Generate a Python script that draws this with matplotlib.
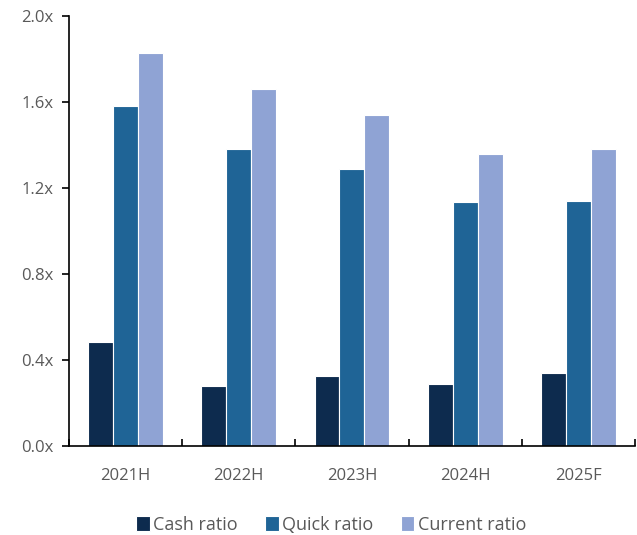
import numpy as np
import matplotlib.pyplot as plt
from matplotlib.ticker import FixedLocator

plt.rcParams['font.family'] = ['Open Sans', 'DejaVu Sans']

# data
periods = ['2021H', '2022H', '2023H', '2024H', '2025F']
cash_ratio = [0.485, 0.28, 0.326, 0.289, 0.34]
quick_ratio = [1.58, 1.38, 1.287, 1.137, 1.142]
current_ratio = [1.83, 1.66, 1.538, 1.357, 1.38]
yticks = [0.0, 0.4, 0.8, 1.2, 1.6, 2.0]

series = [('Cash ratio', cash_ratio, '#0D2B4E'),
          ('Quick ratio', quick_ratio, '#1F6496'),
          ('Current ratio', current_ratio, '#8FA3D4')]

fig = plt.figure(figsize=(6.37, 5.35), dpi=100)
ax = fig.add_axes([0.108, 0.166, 0.889, 0.804])

x = np.arange(len(periods))
w = 0.22
for i, (name, vals, col) in enumerate(series):
    ax.bar(x + (i - 1) * w, vals, width=w, color=col, edgecolor='white',
           linewidth=0.8, label=name)

ax.set_xlim(-0.5, len(periods) - 0.5)
ax.set_ylim(0, 2.0)
ax.set_yticks(yticks)
ax.set_yticklabels(['%.1fx' % v for v in yticks])
ax.set_xticks(x)
ax.set_xticklabels(periods)
ax.xaxis.set_minor_locator(FixedLocator(np.arange(-0.5, len(periods), 1.0)))

grey = '#595959'
ax.tick_params(axis='y', direction='out', length=5, width=1.2, colors='black',
               labelcolor=grey, labelsize=12, pad=6)
ax.tick_params(axis='x', which='major', length=0, labelcolor=grey,
               labelsize=12, pad=16)
ax.tick_params(axis='x', which='minor', direction='in', length=5, width=1.2)

for s in ['top', 'right']:
    ax.spines[s].set_visible(False)
for s in ['left', 'bottom']:
    ax.spines[s].set_linewidth(1.2)

leg = fig.legend(loc='lower center', bbox_to_anchor=(0.52, -0.028), ncol=3,
                 frameon=False, fontsize=13, handlelength=0.75, handleheight=0.9,
                 handletextpad=0.2, columnspacing=1.5)
for t in leg.get_texts():
    t.set_color(grey)

plt.savefig('out.png', dpi=100)
